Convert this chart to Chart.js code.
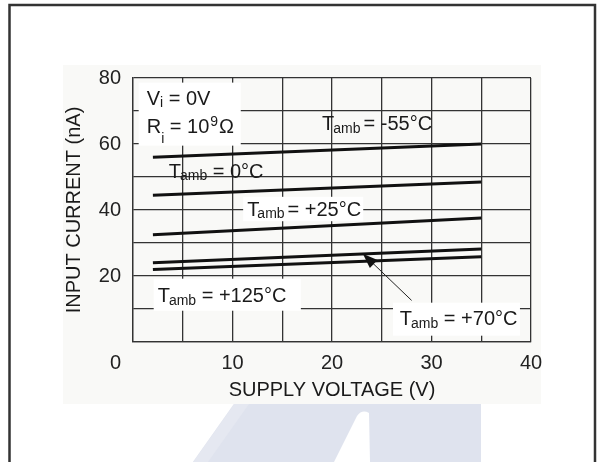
<!DOCTYPE html>
<html>
<head>
<meta charset="utf-8">
<script src="https://cdn.jsdelivr.net/npm/chart.js@4.4.0/dist/chart.umd.min.js"></script>
<style>
html, body { margin: 0; padding: 0; background: #fff; }
#wrap { width: 599px; height: 462px; }
</style>
</head>
<body>
<div id="wrap"><canvas id="chart" width="599" height="462"></canvas></div>
<script>
// supply voltage (V) at both ends of each curve
const voltage = [2, 35];
// input current (nA) per ambient temperature
const currentM55 = [56, 60];
const current0 = [44.5, 48.5];
const current25 = [32.5, 37.6];
const current70 = [24, 28.2];
const current125 = [22, 25.8];
const xTickLabels = [10, 20, 30, 40];
const yTickLabels = [20, 40, 60, 80];

const FONT = '"Liberation Sans", Arial, sans-serif';
Chart.defaults.font.family = FONT;
Chart.defaults.color = '#222';

function pts(arr) {
    return voltage.map((v, i) => ({ x: v, y: arr[i] }));
}

// text labels placed in data coordinates (left edge, baseline)
const notes = [
    { x: 1.38, y: 71.9, parts: [["V", 20, 0, 0], ["i", 14, 2, 0], [" = 0V", 20, 0, 0]],
      box: [0.57, 78.6, 10.83, 59.5] },
    { x: 1.38, y: 63.4, parts: [["R", 20, 0, 0], ["i", 14, 10, 0], [" = 10", 20, 0, 0], ["9", 14, -7, 1], ["\u03A9", 20, 0, 1]] },
    { x: 19.0, y: 64.3, parts: [["T", 20, 0, 0], ["amb", 14, 3, -1], ["= -55°C", 20, 0, 3]] },
    { x: 3.59, y: 49.7, parts: [["T", 20, 0, 0], ["amb", 14, 2, -1], [" = 0°C", 20, 0, 0]] },
    { x: 11.47, y: 38.06, parts: [["T", 20, 0, 0], ["amb", 14, 2, -2], ["= +25°C", 20, 0, 3]],
      box: [11.07, 44.0, 23.14, 36.6] },
    { x: 2.48, y: 12.21, parts: [["T", 20, 0, 0], ["amb", 14, 3, -1], [" = +125°C", 20, 0, 0]],
      box: [2.08, 19.18, 16.87, 9.48] },
    { x: 26.82, y: 5.24, parts: [["T", 20, 0, 0], ["amb", 14, 3, -1], [" = +70°C", 20, 0, 0]],
      box: [26.13, 11.91, 38.89, 1.91] }
];
const arrow = { from: [28.0, 12.6], to: [23.1, 26.76] };

const frame = {
    id: 'frame',
    beforeDraw(chart) {
        const c = chart.ctx;
        c.save();
        c.fillStyle = '#fff';
        c.fillRect(0, 0, 599, 462);
        c.fillStyle = '#f9f9f7';
        c.fillRect(63, 65, 478, 339);
        // faint logo at the bottom
        c.fillStyle = '#dfe3ee';
        c.beginPath();
        c.moveTo(234, 404); c.lineTo(481, 404); c.lineTo(481, 462); c.lineTo(193, 462);
        c.closePath(); c.fill();
        c.fillStyle = '#e5e8f1';
        c.beginPath();
        c.moveTo(234, 404); c.lineTo(249, 404); c.lineTo(208, 462); c.lineTo(193, 462);
        c.closePath(); c.fill();
        c.fillStyle = '#fff';
        c.beginPath();
        c.moveTo(357, 416); c.quadraticCurveTo(362, 409, 369, 413);
        c.lineTo(370, 462); c.lineTo(334, 462);
        c.closePath(); c.fill();
        c.strokeStyle = '#333';
        c.lineWidth = 2.5;
        c.beginPath();
        c.moveTo(9.5, 462); c.lineTo(9.5, 5); c.lineTo(595, 5); c.lineTo(595, 462);
        c.stroke();
        c.restore();
    }
};

const annotate = {
    id: 'annotate',
    afterDatasetsDraw(chart) {
        const c = chart.ctx;
        const xs = chart.scales.x, ys = chart.scales.y;
        c.save();
        notes.forEach(n => {
            if (n.box) {
                const x0 = xs.getPixelForValue(n.box[0]), y0 = ys.getPixelForValue(n.box[1]);
                const x1 = xs.getPixelForValue(n.box[2]), y1 = ys.getPixelForValue(n.box[3]);
                c.fillStyle = '#fff';
                c.fillRect(x0, y0, x1 - x0, y1 - y0);
            }
        });
        c.fillStyle = '#1a1a1a';
        c.textBaseline = 'alphabetic';
        c.textAlign = 'left';
        notes.forEach(n => {
            let px = xs.getPixelForValue(n.x);
            const py = ys.getPixelForValue(n.y);
            n.parts.forEach(([t, size, dy, dx]) => {
                c.font = size + 'px ' + FONT;
                px += dx;
                c.fillText(t, px, py + dy);
                px += c.measureText(t).width;
            });
        });
        // shared zero at the corner
        c.font = '20px ' + FONT;
        c.fillStyle = '#222';
        c.textAlign = 'right';
        c.textBaseline = 'middle';
        c.fillText('0', chart.chartArea.left - 12, chart.chartArea.bottom + 21);
        // arrow to the +70°C curve
        const ax = xs.getPixelForValue(arrow.from[0]), ay = ys.getPixelForValue(arrow.from[1]);
        const bx = xs.getPixelForValue(arrow.to[0]), by = ys.getPixelForValue(arrow.to[1]);
        const ang = Math.atan2(by - ay, bx - ax);
        c.strokeStyle = '#222';
        c.lineWidth = 1;
        c.beginPath();
        c.moveTo(ax, ay);
        c.lineTo(bx - 10 * Math.cos(ang), by - 10 * Math.sin(ang));
        c.stroke();
        c.fillStyle = '#111';
        c.beginPath();
        c.moveTo(bx, by);
        c.lineTo(bx - 15 * Math.cos(ang) + 5.5 * Math.sin(ang), by - 15 * Math.sin(ang) - 5.5 * Math.cos(ang));
        c.lineTo(bx - 15 * Math.cos(ang) - 5.5 * Math.sin(ang), by - 15 * Math.sin(ang) + 5.5 * Math.cos(ang));
        c.closePath();
        c.fill();
        c.restore();
    }
};

const lineStyle = {
    borderColor: '#111',
    borderWidth: 3,
    pointRadius: 0,
    fill: false,
    tension: 0,
    borderCapStyle: 'butt'
};

new Chart(document.getElementById('chart'), {
    type: 'line',
    data: {
        datasets: [
            { label: 'Tamb = -55°C', data: pts(currentM55), ...lineStyle },
            { label: 'Tamb = 0°C', data: pts(current0), ...lineStyle },
            { label: 'Tamb = +25°C', data: pts(current25), ...lineStyle },
            { label: 'Tamb = +70°C', data: pts(current70), ...lineStyle },
            { label: 'Tamb = +125°C', data: pts(current125), ...lineStyle }
        ]
    },
    options: {
        responsive: false,
        animation: false,
        devicePixelRatio: 1,
        layout: { padding: { top: 78, right: 68, bottom: 0, left: 0 } },
        plugins: {
            legend: { display: false },
            tooltip: { enabled: false }
        },
        scales: {
            x: {
                type: 'linear',
                min: 0,
                max: 40,
                afterFit: s => { s.height = 120; },
                ticks: {
                    stepSize: 5,
                    autoSkip: false,
                    maxRotation: 0,
                    padding: 9,
                    font: { size: 20 },
                    callback: v => xTickLabels.includes(v) ? String(v) : ''
                },
                grid: { color: '#333', lineWidth: 1.3, drawTicks: false },
                border: { color: '#333', width: 1.3 },
                title: {
                    display: true,
                    text: 'SUPPLY VOLTAGE (V)',
                    color: '#1a1a1a',
                    font: { size: 20 },
                    padding: { top: 0, bottom: 60 }
                }
            },
            y: {
                min: 0,
                max: 80,
                afterFit: s => { s.width = 133; },
                ticks: {
                    stepSize: 10,
                    autoSkip: false,
                    padding: 12,
                    font: { size: 20 },
                    callback: v => yTickLabels.includes(v) ? String(v) : ''
                },
                grid: { color: '#333', lineWidth: 1.3, drawTicks: false },
                border: { color: '#333', width: 1.3 },
                title: {
                    display: true,
                    text: 'INPUT CURRENT (nA)',
                    color: '#1a1a1a',
                    font: { size: 20 },
                    padding: { top: 62, bottom: 0 }
                }
            }
        }
    },
    plugins: [frame, annotate]
});
</script>
</body>
</html>
